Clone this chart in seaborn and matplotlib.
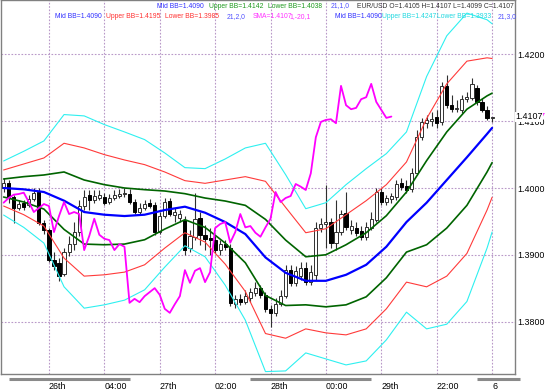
import numpy as np
import matplotlib
matplotlib.use("Agg")
import matplotlib.pyplot as plt
import seaborn as sns

# EUR/USD hourly candles
opens = [1.4000, 1.4008, 1.3987, 1.3970, 1.3978, 1.3975, 1.3984, 1.3994, 1.3948, 1.3937,
         1.3892, 1.3888, 1.3871, 1.3904, 1.3916, 1.3934, 1.3973, 1.3990, 1.3982, 1.3985,
         1.3987, 1.3979, 1.3985, 1.3988, 1.3991, 1.3991, 1.3979, 1.3964, 1.3970, 1.3978,
         1.3975, 1.3934, 1.3958, 1.3981, 1.3960, 1.3955, 1.3952, 1.3910, 1.3927, 1.3955,
         1.3930, 1.3925, 1.3922, 1.3907, 1.3916, 1.3910, 1.3826, 1.3834, 1.3829, 1.3835,
         1.3843, 1.3850, 1.3840, 1.3819, 1.3813, 1.3826, 1.3838, 1.3877, 1.3858, 1.3868,
         1.3880, 1.3859, 1.3869, 1.3940, 1.3946, 1.3949, 1.3918, 1.3934, 1.3962, 1.3937,
         1.3940, 1.3936, 1.3927, 1.3940, 1.3952, 1.3994, 1.3979, 1.3984, 1.3987, 1.4008,
         1.4003, 1.3999, 1.4022, 1.4076, 1.4097, 1.4100, 1.4106, 1.4099, 1.4153, 1.4124,
         1.4118, 1.4117, 1.4133, 1.4135, 1.4150, 1.4129, 1.4117, 1.4105]
highs = [1.4015, 1.4012, 1.3990, 1.3982, 1.3982, 1.3990, 1.4000, 1.4000, 1.3952, 1.3940,
         1.3904, 1.3895, 1.3910, 1.3928, 1.3949, 1.3982, 1.3997, 1.3997, 1.3997, 1.3997,
         1.3993, 1.3991, 1.3997, 1.3999, 1.4000, 1.3999, 1.3984, 1.3978, 1.3982, 1.3984,
         1.3979, 1.3964, 1.3985, 1.3985, 1.3970, 1.3967, 1.3958, 1.3937, 1.3993, 1.3964,
         1.3945, 1.3940, 1.3928, 1.3922, 1.3922, 1.3916, 1.3840, 1.3841, 1.3847, 1.3850,
         1.3859, 1.3855, 1.3844, 1.3825, 1.3835, 1.3847, 1.3885, 1.3885, 1.3883, 1.3889,
         1.3889, 1.3885, 1.3949, 1.3955, 1.4004, 1.3955, 1.3982, 1.3967, 1.3994, 1.3952,
         1.3949, 1.3943, 1.3949, 1.3964, 1.4000, 1.4000, 1.3990, 1.3993, 1.4012, 1.4015,
         1.4012, 1.4030, 1.4087, 1.4105, 1.4109, 1.4114, 1.4117, 1.4159, 1.4169, 1.4139,
         1.4132, 1.4139, 1.4144, 1.4165, 1.4154, 1.4135, 1.4123, 1.4107]
lows = [1.3994, 1.3978, 1.3948, 1.3967, 1.3967, 1.3972, 1.3981, 1.3945, 1.3931, 1.3889,
        1.3877, 1.3861, 1.3868, 1.3898, 1.3907, 1.3928, 1.3967, 1.3967, 1.3978, 1.3982,
        1.3975, 1.3976, 1.3982, 1.3985, 1.3987, 1.3976, 1.3961, 1.3960, 1.3967, 1.3970,
        1.3930, 1.3931, 1.3955, 1.3958, 1.3949, 1.3949, 1.3900, 1.3904, 1.3922, 1.3915,
        1.3907, 1.3900, 1.3903, 1.3900, 1.3907, 1.3823, 1.3820, 1.3825, 1.3826, 1.3829,
        1.3838, 1.3835, 1.3814, 1.3792, 1.3808, 1.3823, 1.3835, 1.3853, 1.3853, 1.3862,
        1.3855, 1.3855, 1.3862, 1.3934, 1.3910, 1.3910, 1.3907, 1.3930, 1.3937, 1.3931,
        1.3928, 1.3922, 1.3922, 1.3937, 1.3949, 1.3975, 1.3975, 1.3978, 1.3982, 1.3997,
        1.3993, 1.3994, 1.4019, 1.4072, 1.4090, 1.4093, 1.4090, 1.4094, 1.4120, 1.4114,
        1.4114, 1.4112, 1.4129, 1.4132, 1.4124, 1.4114, 1.4102, 1.4099]
closes = [1.4008, 1.3987, 1.3970, 1.3976, 1.3972, 1.3984, 1.3993, 1.3948, 1.3937, 1.3892,
          1.3883, 1.3868, 1.3904, 1.3916, 1.3934, 1.3973, 1.3987, 1.3982, 1.3988, 1.3990,
          1.3978, 1.3985, 1.3990, 1.3991, 1.3993, 1.3979, 1.3964, 1.3970, 1.3976, 1.3973,
          1.3934, 1.3958, 1.3979, 1.3961, 1.3964, 1.3961, 1.3907, 1.3928, 1.3954, 1.3930,
          1.3924, 1.3922, 1.3907, 1.3916, 1.3912, 1.3828, 1.3834, 1.3829, 1.3838, 1.3844,
          1.3850, 1.3840, 1.3819, 1.3813, 1.3826, 1.3838, 1.3877, 1.3858, 1.3876, 1.3880,
          1.3859, 1.3874, 1.3940, 1.3946, 1.3949, 1.3918, 1.3934, 1.3961, 1.3941, 1.3943,
          1.3933, 1.3927, 1.3941, 1.3954, 1.3994, 1.3979, 1.3985, 1.3988, 1.4006, 1.4002,
          1.3997, 1.4022, 1.4076, 1.4099, 1.4102, 1.4103, 1.4097, 1.4153, 1.4124, 1.4118,
          1.4120, 1.4133, 1.4136, 1.4156, 1.4129, 1.4117, 1.4105, 1.4107]

# Bollinger band (21) mid line and standard deviation, read every 4 bars
bb_idx = [0, 4, 8, 12, 16, 20, 24, 28, 32, 36, 40, 44, 48, 52, 56, 60, 64, 68, 72, 76,
          80, 84, 88, 92, 96, 97]
bb_mid = [1.4000, 1.3998, 1.3994, 1.3981, 1.3964, 1.3960, 1.3958, 1.3960, 1.3967, 1.3972,
          1.3963, 1.3949, 1.3931, 1.3896, 1.3873, 1.3861, 1.3861, 1.3870, 1.3885, 1.3912,
          1.3949, 1.3978, 1.4012, 1.4046, 1.4081, 1.4090]
bb_sd = [0.00135, 0.0019, 0.00255, 0.0043, 0.0048, 0.0045, 0.0042, 0.00375, 0.00285, 0.00195,
         0.0022, 0.00315, 0.0043, 0.0057, 0.0049, 0.0036, 0.0039, 0.0045, 0.0048, 0.00465,
         0.0045, 0.0063, 0.0072, 0.0072, 0.0057, 0.0052]
chikou_shift = 20

grid_bars = [9, 20, 31, 42, 53, 64, 75, 86, 97]
time_labels = ["26th", "04:00", "27th", "02:00", "28th", "00:00", "29th", "22:00", "6"]
price_ticks = [1.38, 1.39, 1.40, 1.41, 1.42]
day_spans = [(1, 25), (49, 73), (94, 102.5)]
last_price = 1.4107

opens, highs, lows, closes = map(np.array, (opens, highs, lows, closes))
bb_idx, bb_mid, bb_sd = map(np.array, (bb_idx, bb_mid, bb_sd))
bars = np.arange(len(closes))

sns.set_theme(style="white")
plt.rcParams["font.family"] = ["Liberation Sans", "DejaVu Sans"]

fig = plt.figure(figsize=(5.5, 3.92), dpi=100)
ax = fig.add_axes([1 / 550, 18 / 392, 514 / 550, 374 / 392])
ax.set_xlim(-0.52, 101.55)
ax.set_ylim(1.37214, 1.42816)

# grid
grid_kw = dict(color="#b898c8", lw=0.8, ls=(0, (1.5, 1.5)), zorder=1)
for g in grid_bars:
    ax.axvline(g, **grid_kw)
for p in price_ticks:
    ax.axhline(p, **grid_kw)

# candles
up = closes >= opens
body_lo = np.minimum(opens, closes)
body_h = np.maximum(np.abs(closes - opens), 0.00004)
ax.vlines(bars, lows, highs, color="#303030", lw=0.8, zorder=2)
ax.bar(bars[up], body_h[up], bottom=body_lo[up], width=0.62, color="white",
       edgecolor="#303030", linewidth=0.7, zorder=3)
ax.bar(bars[~up], body_h[~up], bottom=body_lo[~up], width=0.62, color="black",
       edgecolor="black", linewidth=0.7, zorder=3)

# bands
band_styles = [(3, "#2ef0f0", 0.8), (2, "#ff3a3a", 0.8), (1, "#006400", 1.2)]
for k, col, lw in band_styles:
    sns.lineplot(x=bb_idx, y=bb_mid + k * bb_sd, color=col, lw=lw, ax=ax, zorder=4)
    sns.lineplot(x=bb_idx, y=bb_mid - k * bb_sd, color=col, lw=lw, ax=ax, zorder=4)
sns.lineplot(x=bb_idx, y=bb_mid, color="#0000ff", lw=1.6, ax=ax, zorder=5)

# lagging close line (SMA 1 shifted -20)
sns.lineplot(x=bars[:-chikou_shift], y=closes[chikou_shift:], color="#ff00ff", lw=1.3,
             ax=ax, zorder=5)

# axes look
for s in ax.spines.values():
    s.set_color("#808080")
    s.set_linewidth(1.0)
ax.set_xlabel("")
ax.set_ylabel("")
ax.yaxis.tick_right()
ax.set_yticks(price_ticks)
ax.set_yticklabels([f"{p:.4f}" for p in price_ticks])
ax.set_xticks(grid_bars)
ax.set_xticklabels(time_labels)
for lab in ax.get_xticklabels():
    lab.set_horizontalalignment("left")
ax.tick_params(axis="both", length=0, labelsize=6.4, colors="black")
ax.tick_params(axis="y", pad=1.5)
ax.tick_params(axis="x", pad=6)

# current price label
ax.text(1.0, last_price, " 1.4107", transform=ax.get_yaxis_transform(), fontsize=6.4,
        color="#ff00ff", va="center", ha="left", clip_on=False)
ax.text(1.0, last_price, "1.4107", transform=ax.get_yaxis_transform(), fontsize=6.4,
        color="black", va="center", ha="left", clip_on=False,
        bbox=dict(facecolor="white", edgecolor="none", pad=0.3))

# day separator bars under the chart
trans = ax.get_xaxis_transform()
for a, b in day_spans:
    ax.plot([a, b], [-0.013, -0.013], color="#8a8a8a", lw=2.2, transform=trans,
            clip_on=False, solid_capstyle="butt")

# indicator legends at the top
W, H = 550, 392
row1 = [(157, "Mid BB=1.4090", "#3030ff"), (209, "Upper BB=1.4142", "#1e9a1e"),
        (268, "Lower BB=1.4038", "#1e9a1e"), (331, "21,1,0", "#5050ff"),
        (357, "EUR/USD O=1.4105 H=1.4107 L=1.4099 C=1.4107", "#333333")]
row2 = [(55, "Mid BB=1.4090", "#3030ff"), (106, "Upper BB=1.4195", "#ff3030"),
        (165, "Lower BB=1.3985", "#ff3030"), (227, "21,2,0", "#5050ff"),
        (253, "SMA=1.4107", "#ff30ff"), (289, "1,-20,1", "#ff30ff"),
        (335, "Mid BB=1.4090", "#3030ff"), (382, "Upper BB=1.4247", "#20d8e0"),
        (437, "Lower BB=1.3933", "#20d8e0"), (498, "21,3,0", "#5050ff")]
for yy, row in [(6, row1), (17, row2)]:
    for xx, txt, col in row:
        fig.text(xx / W, 1 - yy / H, txt, color=col, fontsize=4.9,
                 family="Liberation Sans", ha="left", va="center")

fig.savefig("out.png", dpi=100)
